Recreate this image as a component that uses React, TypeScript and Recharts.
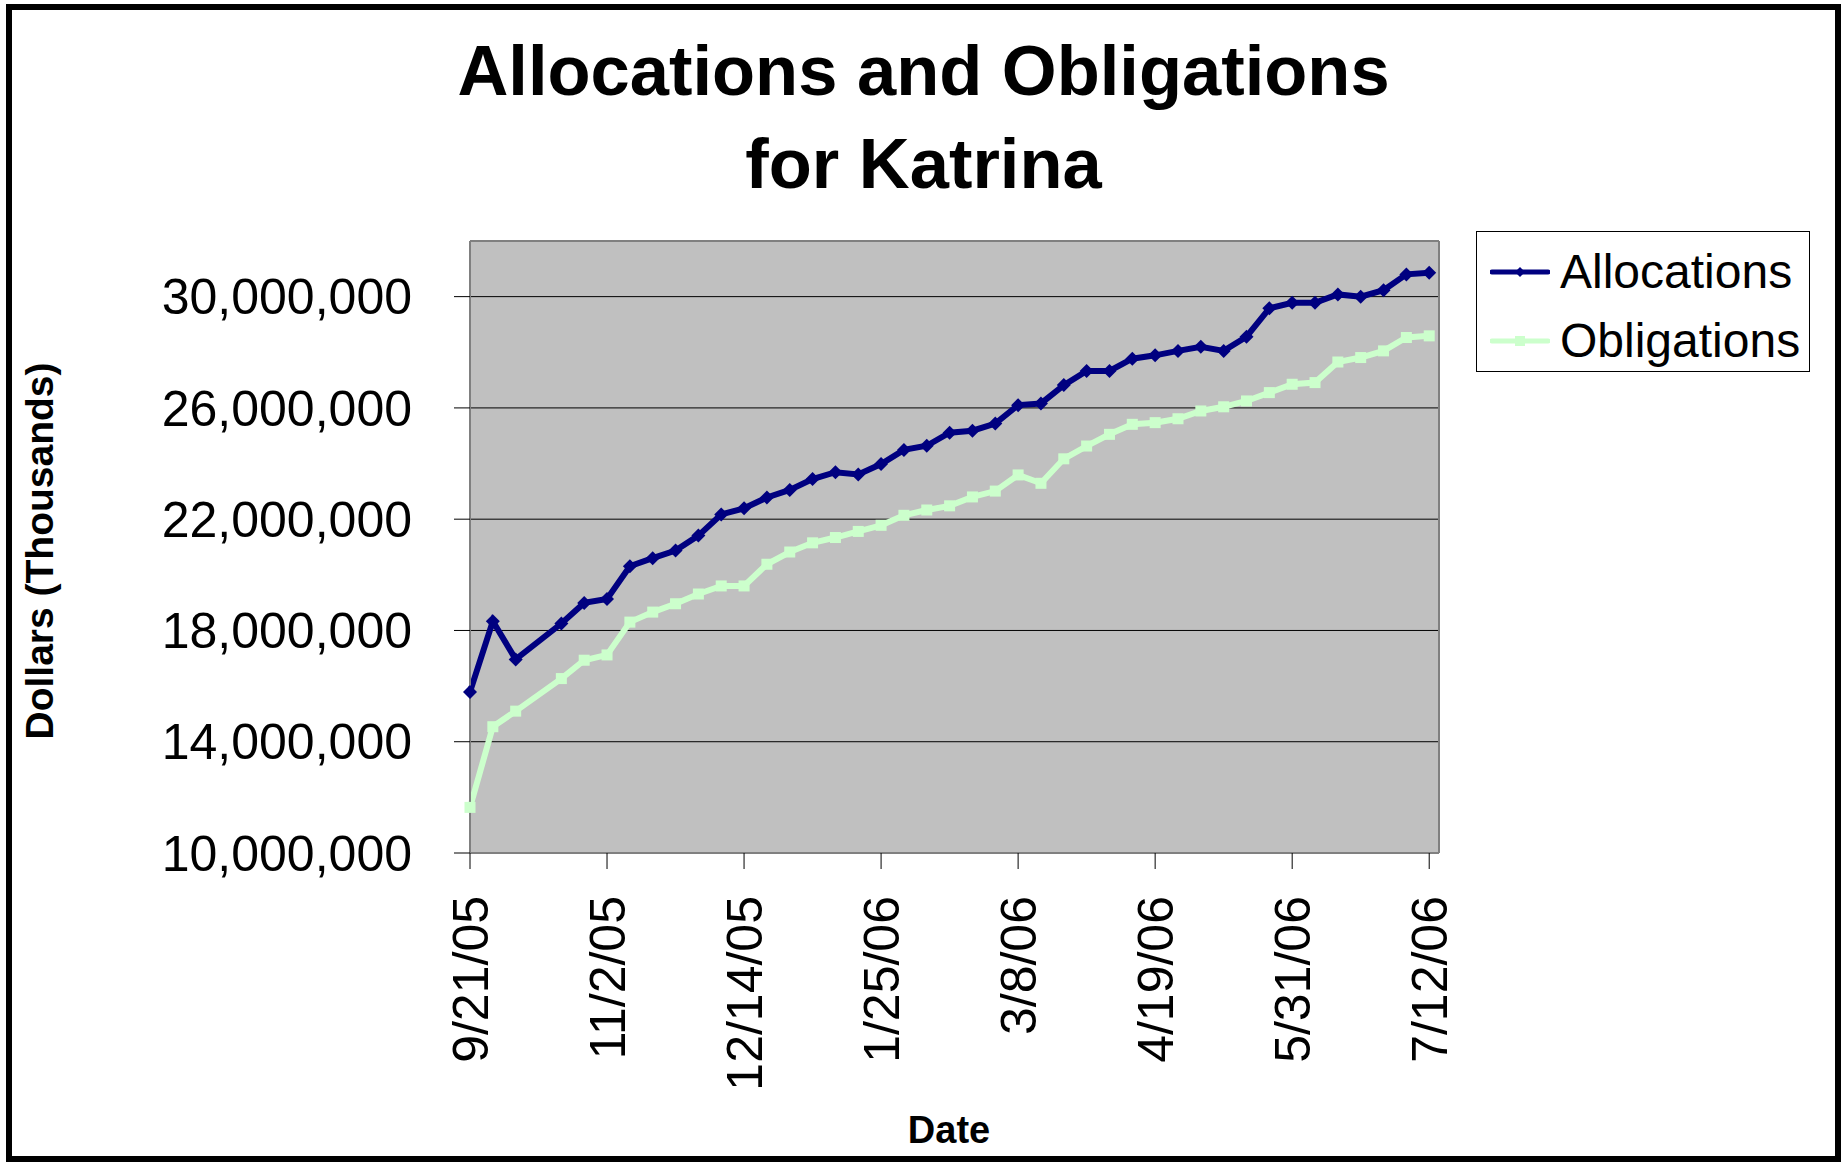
import { LineChart, Line, XAxis, YAxis, CartesianGrid, Legend, ReferenceLine, Label } from 'recharts';

// weekly report dates (10/12/05 missing in the source)
const dates = [
  '9/21/05', '9/28/05', '10/5/05', '10/19/05', '10/26/05', '11/2/05', '11/9/05', '11/16/05',
  '11/23/05', '11/30/05', '12/7/05', '12/14/05', '12/21/05', '12/28/05', '1/4/06', '1/11/06',
  '1/18/06', '1/25/06', '2/1/06', '2/8/06', '2/15/06', '2/22/06', '3/1/06', '3/8/06',
  '3/15/06', '3/22/06', '3/29/06', '4/5/06', '4/12/06', '4/19/06', '4/26/06', '5/3/06',
  '5/10/06', '5/17/06', '5/24/06', '5/31/06', '6/7/06', '6/14/06', '6/21/06', '6/28/06',
  '7/5/06', '7/12/06'
];

const allocations = [
  15790000, 18330000, 16960000, 18250000, 18990000, 19130000, 20310000, 20600000,
  20870000, 21410000, 22170000, 22390000, 22780000, 23050000, 23440000, 23690000,
  23610000, 23980000, 24490000, 24640000, 25110000, 25180000, 25440000, 26100000,
  26160000, 26820000, 27330000, 27330000, 27770000, 27890000, 28050000, 28200000,
  28050000, 28560000, 29580000, 29780000, 29780000, 30080000, 30000000, 30230000,
  30800000, 30860000
];

const obligations = [
  11640000, 14540000, 15100000, 16270000, 16930000, 17120000, 18300000, 18660000,
  18960000, 19310000, 19600000, 19600000, 20380000, 20820000, 21150000, 21340000,
  21560000, 21780000, 22140000, 22330000, 22480000, 22800000, 23010000, 23590000,
  23290000, 24170000, 24630000, 25050000, 25410000, 25470000, 25610000, 25890000,
  26040000, 26250000, 26550000, 26850000, 26910000, 27650000, 27810000, 28050000,
  28530000, 28590000
];

const dateTicks = ['9/21/05', '11/2/05', '12/14/05', '1/25/06', '3/8/06', '4/19/06', '5/31/06', '7/12/06'];
const yTicks = [10000000, 14000000, 18000000, 22000000, 26000000, 30000000];

const FONT = 'Arial, "Liberation Sans", sans-serif';
const NAVY = '#000080';
const MINT = '#CCFFCC';

const toUtc = (s: string) => {
  const [m, d, y] = s.split('/').map(Number);
  return Date.UTC(2000 + y, m - 1, d);
};
const START = toUtc(dates[0]);
const dayOf = (s: string) => Math.round((toUtc(s) - START) / 86400000);

const data = dates.map((d, i) => ({
  day: dayOf(d),
  allocations: allocations[i],
  obligations: obligations[i]
}));

const tickDays = dateTicks.map(dayOf);
const tickLabel: Record<number, string> = {};
tickDays.forEach((d, i) => { tickLabel[d] = dateTicks[i]; });
const xMax = tickDays[tickDays.length - 1] + 3;

const Diamond = ({ cx, cy, size = 7 }: any) => {
  if (cx == null || cy == null) return null;
  return <path d={`M${cx},${cy - size}L${cx + size},${cy}L${cx},${cy + size}L${cx - size},${cy}Z`} fill={NAVY} />;
};

const Square = ({ cx, cy, size = 5.5 }: any) => {
  if (cx == null || cy == null) return null;
  return <rect x={cx - size} y={cy - size} width={size * 2} height={size * 2} fill={MINT} />;
};

const DateTick = ({ x, y, payload }: any) => (
  <text
    x={x}
    y={y}
    transform={`rotate(-90, ${x}, ${y})`}
    textAnchor="end"
    dy="0.35em"
    fontFamily={FONT}
    fontSize={50}
    fill="#000"
  >
    {tickLabel[payload.value] ?? ''}
  </text>
);

const legendItems = [
  { name: 'Allocations', color: NAVY, marker: 'diamond' },
  { name: 'Obligations', color: MINT, marker: 'square' }
];

const LegendBox = () => (
  <div
    style={{
      width: 334,
      height: 141,
      boxSizing: 'border-box',
      border: '1.5px solid #000',
      background: '#fff',
      paddingTop: 5,
      paddingLeft: 13,
      fontFamily: FONT,
      fontSize: 48
    }}
  >
    {legendItems.map((it) => (
      <div key={it.name} style={{ height: 69, display: 'flex', alignItems: 'center' }}>
        <svg width={60} height={20} style={{ marginRight: 10 }}>
          <line x1={2} y1={10} x2={58} y2={10} stroke={it.color} strokeWidth={5} strokeLinecap="round" />
          {it.marker === 'diamond'
            ? <Diamond cx={30} cy={10} size={5} />
            : <Square cx={30} cy={10} size={5} />}
        </svg>
        <span style={{ color: '#000' }}>{it.name}</span>
      </div>
    ))}
  </div>
);

export default function App() {
  return (
    <div style={{ position: 'absolute', left: 0, top: 0, width: 1841, height: 1162, background: '#fff' }}>
      <div
        style={{
          position: 'absolute',
          left: 6,
          top: 4,
          width: 1835,
          height: 1158,
          boxSizing: 'border-box',
          border: '6px solid #000'
        }}
      />
      <div
        style={{
          position: 'absolute',
          left: 6,
          top: 24,
          width: 1835,
          textAlign: 'center',
          fontFamily: FONT,
          fontWeight: 'bold',
          fontSize: 70.5,
          lineHeight: '93px',
          color: '#000'
        }}
      >
        Allocations and Obligations
        <br />
        for Katrina
      </div>
      <div style={{ position: 'absolute', left: 0, top: 0 }}>
        <LineChart
          width={1841}
          height={1162}
          data={data}
          margin={{ top: 241, right: 402, bottom: 19, left: 10 }}
        >
          <CartesianGrid vertical={false} stroke="#000" strokeWidth={1} fill="#C0C0C0" fillOpacity={1} />
          <XAxis
            dataKey="day"
            type="number"
            domain={[0, xMax]}
            ticks={tickDays}
            interval={0}
            height={290}
            tickSize={16}
            tickMargin={27}
            tickLine={{ stroke: '#000', strokeWidth: 1 }}
            axisLine={{ stroke: '#808080', strokeWidth: 2 }}
            tick={<DateTick />}
          >
            <Label
              content={() => (
                <text x={949} y={1143} textAnchor="middle" fontFamily={FONT} fontWeight="bold" fontSize={38} fill="#000">
                  Date
                </text>
              )}
            />
          </XAxis>
          <YAxis
            type="number"
            domain={[10000000, 32000000]}
            ticks={yTicks}
            interval={0}
            width={460}
            tickSize={16}
            tickMargin={42}
            tickLine={{ stroke: '#000', strokeWidth: 1 }}
            axisLine={{ stroke: '#808080', strokeWidth: 2 }}
            tick={{ fontFamily: FONT, fontSize: 50, fill: '#000' }}
            tickFormatter={(v: number) => v.toLocaleString('en-US')}
          >
            <Label
              content={() => (
                <text
                  x={39}
                  y={551}
                  transform="rotate(-90, 39, 551)"
                  textAnchor="middle"
                  dominantBaseline="central"
                  fontFamily={FONT}
                  fontWeight="bold"
                  fontSize={39}
                  fill="#000"
                >
                  Dollars (Thousands)
                </text>
              )}
            />
          </YAxis>
          <ReferenceLine y={32000000} stroke="#808080" strokeWidth={2} />
          <ReferenceLine x={xMax} stroke="#808080" strokeWidth={2} />
          <Legend
            verticalAlign="middle"
            layout="horizontal"
            content={<LegendBox />}
            wrapperStyle={{ left: 1476, top: 231, width: 334, height: 141 }}
          />
          <Line
            type="linear"
            dataKey="allocations"
            name="Allocations"
            stroke={NAVY}
            strokeWidth={6}
            dot={(p: any) => <Diamond key={`a${p.index}`} cx={p.cx} cy={p.cy} />}
            activeDot={false}
            isAnimationActive={false}
          />
          <Line
            type="linear"
            dataKey="obligations"
            name="Obligations"
            stroke={MINT}
            strokeWidth={6}
            dot={(p: any) => <Square key={`o${p.index}`} cx={p.cx} cy={p.cy} />}
            activeDot={false}
            isAnimationActive={false}
          />
        </LineChart>
      </div>
    </div>
  );
}
